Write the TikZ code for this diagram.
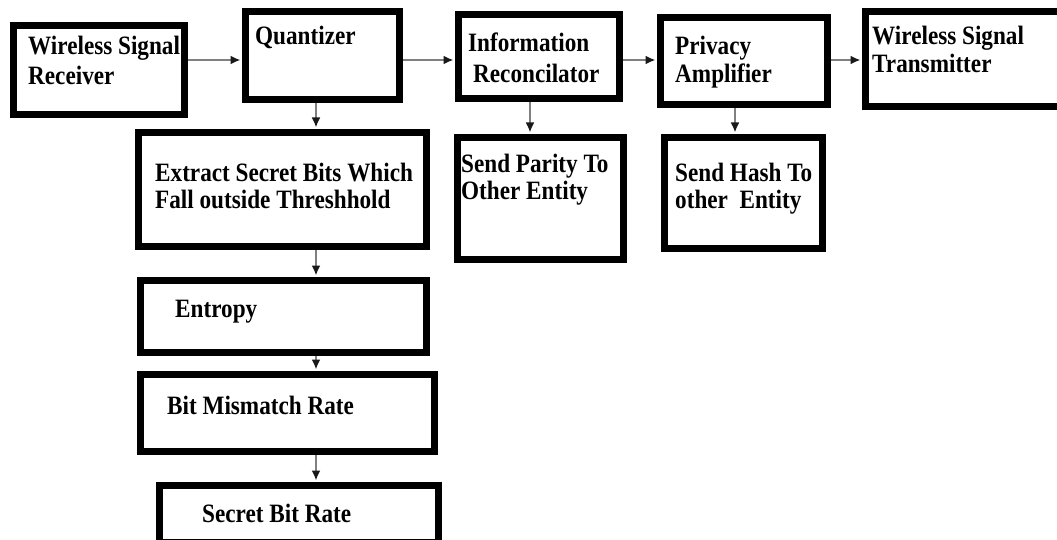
\documentclass[tikz,border=0pt]{standalone}
\usepackage{fontspec}
\newfontfamily\lblfont{Liberation Serif}[FakeStretch=0.875]
\usetikzlibrary{arrows.meta}
\tikzset{
  box/.style={draw=black, line width=7pt, fill=white, rectangle, inner sep=0pt},
  lbl/.style={anchor=base west, inner sep=0pt, text=black, font=\lblfont\bfseries\fontsize{26.5}{30}\selectfont},
  conn/.style={draw=black!50, line width=2.4pt, shorten >=1.5pt, -{Latex[length=10pt,width=9pt,color=black!90]}}
}
\begin{document}
\begin{tikzpicture}[x=1pt,y=-1pt]
\useasboundingbox (0,0) rectangle (1057,540);
\fill[white] (0,0) rectangle (1057,540);
% boxes
\node[box, minimum width=171pt, minimum height=89pt] (rcv) at (99,70) {};
\node[box, minimum width=154pt, minimum height=88pt] (quant) at (322.5,55.5) {};
\node[box, minimum width=161pt, minimum height=84pt] (info) at (539,56.5) {};
\node[box, minimum width=167pt, minimum height=87pt] (priv) at (744,61) {};
\node[box, minimum width=195pt, minimum height=95pt] (trans) at (963,59) {};
\node[box, minimum width=288pt, minimum height=114pt] (extract) at (282.5,189.5) {};
\node[box, minimum width=166pt, minimum height=122pt] (parity) at (540.5,198.5) {};
\node[box, minimum width=158pt, minimum height=111pt] (hash) at (743.5,193) {};
\node[box, minimum width=286pt, minimum height=72pt] (entropy) at (283.5,316.5) {};
\node[box, minimum width=294pt, minimum height=77pt] (bmr) at (287.5,413) {};
\node[box, minimum width=279pt, minimum height=57pt] (sbr) at (299,514) {};
% texts
\node[lbl] (rcv1) at (28,55) {Wireless Signal};
\node[lbl] (rcv2) at (28,85) {Receiver};
\node[lbl] (quant1) at (255,45) {Quantizer};
\node[lbl] (info1) at (468,52) {Information};
\node[lbl] (info2) at (473,83) {Reconcilator};
\node[lbl] (priv1) at (675,55) {Privacy};
\node[lbl] (priv2) at (675,83) {Amplifier};
\node[lbl] (trans1) at (872,45) {Wireless Signal};
\node[lbl] (trans2) at (872,73) {Transmitter};
\node[lbl] (ext1) at (155,182) {Extract Secret Bits Which};
\node[lbl] (ext2) at (155,208) {Fall outside Threshhold};
\node[lbl] (par1) at (461,173) {Send Parity To};
\node[lbl] (par2) at (461,200) {Other Entity};
\node[lbl] (hash1) at (675,182) {Send Hash To};
\node[lbl] (hash2) at (675,208) {other\ \ Entity};
\node[lbl] (ent1) at (175,317) {Entropy};
\node[lbl] (bmr1) at (167,414) {Bit Mismatch Rate};
\node[lbl] (sbr1) at (202,522) {Secret Bit Rate};
% connector guides
\coordinate (ay) at (0,60);
\coordinate (ax1) at (316,0);
\coordinate (ax2) at (530,0);
\coordinate (ax3) at (735,0);
\coordinate (ax4) at (316,0);
% connectors
\draw[conn] (rcv.east |- ay) -- (quant.west |- ay);
\draw[conn] (quant.east |- ay) -- (info.west |- ay);
\draw[conn] (info.east |- ay) -- (priv.west |- ay);
\draw[conn] (priv.east |- ay) -- (trans.west |- ay);
\draw[conn] (quant.south -| ax1) -- (extract.north -| ax1);
\draw[conn] (info.south -| ax2) -- (parity.north -| ax2);
\draw[conn] (priv.south -| ax3) -- (hash.north -| ax3);
\draw[conn] (extract.south -| ax4) -- (entropy.north -| ax4);
\draw[conn] (entropy.south -| ax4) -- (bmr.north -| ax4);
\draw[conn] (bmr.south -| ax4) -- (sbr.north -| ax4);
\end{tikzpicture}
\end{document}
